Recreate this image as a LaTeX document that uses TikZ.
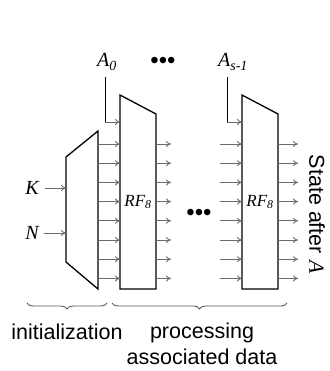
\documentclass[tikz,border=0pt]{standalone}
\usepackage{fontspec}
\setmainfont{Liberation Serif}
\setsansfont{Liberation Sans}
\usetikzlibrary{decorations.pathreplacing,arrows.meta}
\begin{document}
\begin{tikzpicture}[x=1pt,y=-1pt,
  blk/.style={draw=black,line width=1.3pt,line join=miter},
  sig/.style={draw=gray!85!black,line width=0.9pt,-{To[length=5pt,width=6pt]}},
  feed/.style={draw=black,line width=1pt},
  lbl/.style={font=\fontsize{20}{22}\selectfont\itshape,inner sep=0pt},
  rflbl/.style={font=\fontsize{17}{19}\selectfont\itshape,inner sep=0pt},
  txt/.style={font=\fontsize{21.5}{26}\selectfont\sffamily,inner sep=0pt},
  dots/.style={font=\fontsize{24}{26}\selectfont\sffamily,inner sep=0pt},
  brc/.style={draw=gray!70!black,line width=0.9pt,decorate,decoration={brace,mirror,amplitude=6pt}}]
\useasboundingbox (0,0) rectangle (329,371);
% blocks
\draw[blk] (66,157) -- (98,131) -- (98,289) -- (66,262) -- cycle;
\draw[blk] (120,95) -- (156,114) -- (156,289) -- (120,289) -- cycle;
\draw[blk] (242,95) -- (278,114) -- (278,289) -- (242,289) -- cycle;
\node[rflbl] (rf1) at (138,202) {RF\textsubscript{8}};
\node[rflbl] (rf2) at (260,202) {RF\textsubscript{8}};
% row arrows
\foreach \i in {0,...,7}{
  \pgfmathsetmacro{\yy}{144+19.2*\i}
  \coordinate (ta\i) at (98,\yy);
  \coordinate (ra\i) at (120,\yy);
  \coordinate (rb\i) at (156,\yy);
  \coordinate (rc\i) at (171,\yy);
  \coordinate (sa\i) at (220,\yy);
  \coordinate (sb\i) at (242,\yy);
  \coordinate (sc\i) at (278,\yy);
  \coordinate (sd\i) at (298,\yy);
  \draw[sig] (ta\i) -- (ra\i);
  \draw[sig] (rb\i) -- (rc\i);
  \draw[sig] (sa\i) -- (sb\i);
  \draw[sig] (sc\i) -- (sd\i);
}
% inputs A0 and A_{s-1}
\node[lbl] (a0) at (107,62) {A\textsubscript{0}};
\node[dots] (topdots) at (163,63) {•••};
\node[lbl] (as) at (233,62) {A\textsubscript{s-1}};
\coordinate (a0t) at (105,77);
\coordinate (a0c) at (105,122);
\coordinate (a0e) at (120,122);
\coordinate (ast) at (227,77);
\coordinate (asc) at (227,122);
\coordinate (ase) at (242,122);
\draw[feed] (a0t) -- (a0c);
\draw[sig] (a0c) -- (a0e);
\draw[feed] (ast) -- (asc);
\draw[sig] (asc) -- (ase);
% K, N
\node[lbl] (k) at (32,188) {K};
\node[lbl] (n) at (32,233) {N};
\coordinate (ke) at (66,188);
\coordinate (ne) at (66,233);
\draw[sig] ([xshift=6pt]k.east) -- (ke);
\draw[sig] ([xshift=5pt]n.east) -- (ne);
% middle dots
\node[dots] (middots) at (199,215) {•••};
% state after A
\node[txt,rotate=-90] (state) at (317,214) {State after {\rmfamily\itshape A}};
% braces
\coordinate (b1l) at (27,303);
\coordinate (b1r) at (107,303);
\coordinate (b2l) at (112,303);
\coordinate (b2r) at (287,303);
\draw[brc] (b1l) -- (b1r);
\draw[brc] (b2l) -- (b2r);
\node[txt] (init) at (67,332) {initialization};
\node[txt,align=center] (proc) at (202,344) {processing\\associated data};
\end{tikzpicture}
\end{document}
